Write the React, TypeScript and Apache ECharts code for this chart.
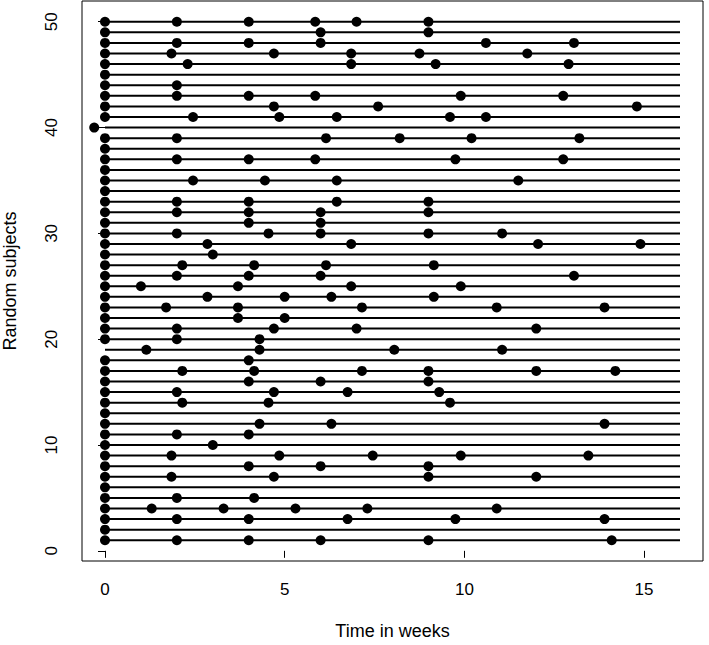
import React, { useEffect, useRef } from "react";
import * as echarts from "echarts";

// Visit times (weeks) for subjects 1..50 (index 0 = subject 1)
const visitTimes: number[][] = [
  [0, 2, 4, 6, 9, 14.1],
  [0],
  [0, 2, 4, 6.75, 9.75, 13.9],
  [0, 1.3, 3.3, 5.3, 7.3, 10.9],
  [0, 2, 4.15],
  [0],
  [0, 1.85, 4.7, 9, 12],
  [0, 4, 6, 9],
  [0, 1.85, 4.85, 7.45, 9.9, 13.45],
  [0, 3],
  [0, 2, 4],
  [0, 4.3, 6.3, 13.9],
  [0],
  [0, 2.15, 4.55, 9.6],
  [0, 2, 4.7, 6.75, 9.3],
  [0, 4, 6, 9],
  [0, 2.15, 4.15, 7.15, 9, 12, 14.2],
  [0, 4],
  [1.15, 4.3, 8.05, 11.05],
  [0, 2, 4.3],
  [0, 2, 4.7, 7, 12],
  [0, 3.7, 5],
  [0, 1.7, 3.7, 7.15, 10.9, 13.9],
  [0, 2.85, 5, 6.3, 9.15],
  [0, 1, 3.7, 6.85, 9.9],
  [0, 2, 4, 6, 13.05],
  [0, 2.15, 4.15, 6.15, 9.15],
  [0, 3],
  [0, 2.85, 6.85, 12.05, 14.9],
  [0, 2, 4.55, 6, 9, 11.05],
  [0, 4, 6],
  [0, 2, 4, 6, 9],
  [0, 2, 4, 6.45, 9],
  [0],
  [0, 2.45, 4.45, 6.45, 11.5],
  [0],
  [0, 2, 4, 5.85, 9.75, 12.75],
  [0],
  [0, 2, 6.15, 8.2, 10.2, 13.2],
  [-0.3],
  [0, 2.45, 4.85, 6.45, 9.6, 10.6],
  [0, 4.7, 7.6, 14.8],
  [0, 2, 4, 5.85, 9.9, 12.75],
  [0, 2],
  [0],
  [0, 2.3, 6.85, 9.2, 12.9],
  [0, 1.85, 4.7, 6.85, 8.75, 11.75],
  [0, 2, 4, 6, 10.6, 13.05],
  [0, 6, 9],
  [0, 2, 4, 5.85, 7, 9],
];

const followStart = 0;
const followEnd = 16;

const xTicks = [0, 5, 10, 15];
const yTicks = [0, 10, 20, 30, 40, 50];

const xTitle = "Time in weeks";
const yTitle = "Random subjects";

export default function App() {
  const ref = useRef<HTMLDivElement>(null);

  useEffect(() => {
    if (!ref.current) return;
    const chart = echarts.init(ref.current, null, { renderer: "svg" });

    const lineSeries = visitTimes.map((_, i) => ({
      type: "line" as const,
      data: [
        [followStart, i + 1],
        [followEnd, i + 1],
      ],
      symbol: "none",
      lineStyle: { color: "#000", width: 2 },
      silent: true,
      z: 2,
    }));

    const points: number[][] = [];
    visitTimes.forEach((times, i) => {
      times.forEach((t) => points.push([t, i + 1]));
    });

    const font = "'Liberation Sans', Arial, Helvetica, sans-serif";

    chart.setOption({
      animation: false,
      backgroundColor: "#fff",
      grid: {
        left: 82,
        right: 6,
        top: 1,
        bottom: 84,
        show: true,
        borderColor: "#000",
        borderWidth: 1,
        backgroundColor: "transparent",
        outerBoundsMode: "none",
      },
      xAxis: {
        type: "value",
        min: -0.64,
        max: 16.64,
        name: xTitle,
        nameLocation: "middle",
        nameGap: 61,
        nameTextStyle: { color: "#000", fontSize: 18, fontFamily: font },
        axisLine: { show: false },
        axisTick: {
          show: true,
          customValues: xTicks,
          length: 7,
          lineStyle: { color: "#000", width: 1 },
        },
        axisLabel: {
          customValues: xTicks,
          color: "#000",
          fontSize: 17,
          fontFamily: font,
          margin: 20,
        },
        splitLine: { show: false },
      },
      yAxis: {
        type: "value",
        min: -0.96,
        max: 51.96,
        name: yTitle,
        nameLocation: "middle",
        nameGap: 63,
        nameRotate: 90,
        nameTextStyle: { color: "#000", fontSize: 18, fontFamily: font },
        axisLine: { show: false },
        axisTick: {
          show: true,
          customValues: yTicks,
          length: 7,
          lineStyle: { color: "#000", width: 1 },
        },
        axisLabel: {
          customValues: yTicks,
          color: "#000",
          fontSize: 17,
          fontFamily: font,
          rotate: 90,
          margin: 22,
        },
        splitLine: { show: false },
      },
      series: [
        ...lineSeries,
        {
          type: "scatter",
          data: points,
          symbol: "circle",
          symbolSize: 10,
          itemStyle: { color: "#000", opacity: 1 },
          silent: true,
          z: 3,
        },
      ],
    });

    return () => chart.dispose();
  }, []);

  return (
    <div
      ref={ref}
      style={{ position: "absolute", left: 0, top: 0, width: 709, height: 645 }}
    />
  );
}
